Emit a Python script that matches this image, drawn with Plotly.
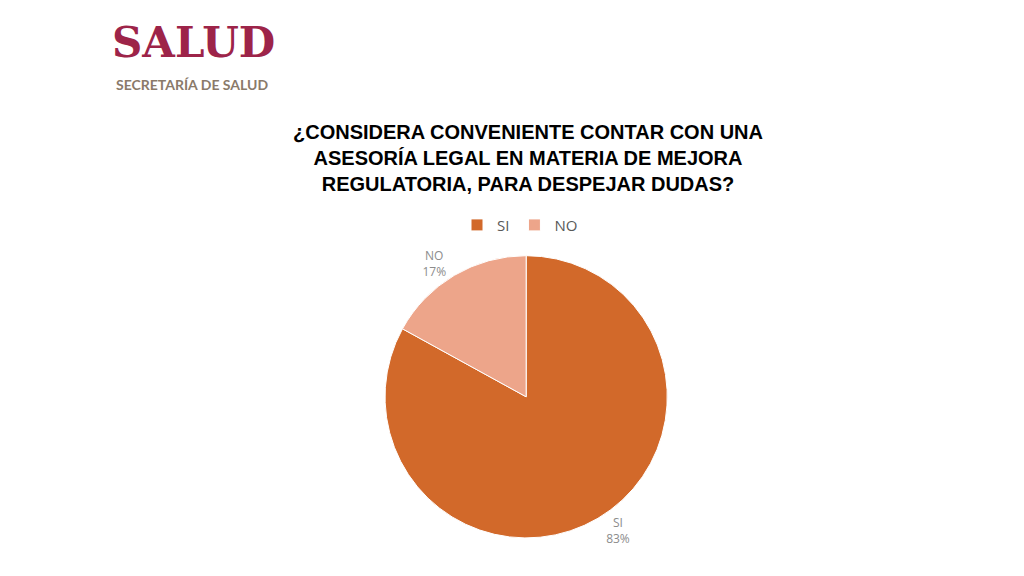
import plotly.graph_objects as go

labels = ["SI", "NO"]
values = [83, 17]
colors = ["#D2692A", "#EDA58A"]

fig = go.Figure(go.Pie(
    labels=labels, values=values, sort=False, direction="clockwise", rotation=0,
    marker=dict(colors=colors, line=dict(color="white", width=1)),
    texttemplate="%{label}<br>%{percent:.0%}", textposition="outside",
    textfont=dict(family="Open Sans", size=12, color="#8C8C8C"),
    domain=dict(x=[0.36, 0.652], y=[0.08, 0.57]), showlegend=True,
))
fig.update_layout(
    width=1024, height=576, margin=dict(l=0, r=0, t=0, b=0),
    paper_bgcolor="white", plot_bgcolor="white",
    legend=dict(orientation="h", x=0.5, xanchor="center", y=0.623, yanchor="middle",
                font=dict(family="Open Sans", size=15, color="#595959")),
    annotations=[
        dict(text="<b>¿CONSIDERA CONVENIENTE CONTAR CON UNA<br>ASESORÍA LEGAL EN MATERIA DE MEJORA<br>REGULATORIA, PARA DESPEJAR DUDAS?</b>",
             x=0.508, y=0.74, xref="paper", yref="paper", yanchor="middle", showarrow=False,
             font=dict(family="Liberation Sans", size=20, color="black")),
        dict(text="<b>SALUD</b>", x=0.1, y=0.94, xref="paper", yref="paper", xanchor="left", yanchor="middle",
             showarrow=False, font=dict(family="DejaVu Serif", size=42, color="#9D2449")),
        dict(text="<b>SECRETARÍA DE SALUD</b>", x=0.104, y=0.868, xref="paper", yref="paper", xanchor="left", yanchor="middle",
             showarrow=False, font=dict(family="Lato", size=14, color="#8A7A6A")),
    ],
)
fig.write_html("out.html")
